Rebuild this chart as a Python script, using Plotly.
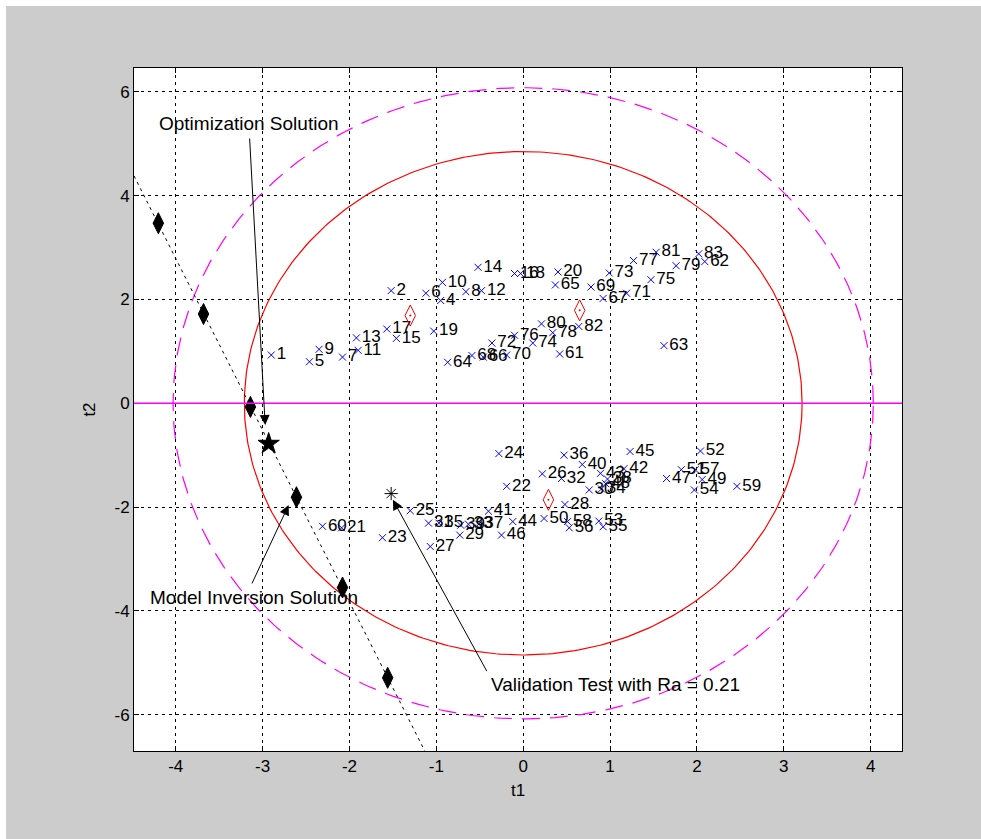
import numpy as np
import plotly.graph_objects as go

# ---------------- data ----------------
upper_labels = ["1", "2", "4", "5", "6", "7", "8", "9", "10", "11", "12", "13", "14", "15", "16", "17", "18", "19", "20",
                "61", "62", "63", "64", "65", "66", "67", "68", "69", "70", "71", "72", "73", "74", "75", "76", "77",
                "78", "79", "80", "81", "82", "83"]
upper_t1 = [-2.90, -1.52, -0.95, -2.46, -1.12, -2.08, -0.66, -2.35, -0.93, -1.90, -0.48, -1.92, -0.52, -1.46, -0.10,
            -1.57, -0.03, -1.03, 0.40,
            0.42, 2.09, 1.62, -0.87, 0.37, -0.46, 0.92, -0.59, 0.78, -0.19, 1.19, -0.36, 0.99, 0.11, 1.47, -0.10, 1.27,
            0.34, 1.76, 0.21, 1.53, 0.64, 2.02]
upper_t2 = [0.93, 2.17, 1.98, 0.80, 2.12, 0.89, 2.15, 1.04, 2.33, 1.02, 2.17, 1.26, 2.62, 1.25, 2.50,
            1.43, 2.50, 1.39, 2.53,
            0.95, 2.73, 1.11, 0.79, 2.28, 0.89, 2.02, 0.92, 2.24, 0.93, 2.12, 1.16, 2.51, 1.16, 2.38, 1.31, 2.75,
            1.36, 2.65, 1.53, 2.91, 1.48, 2.88]

lower_labels = [str(i) for i in range(21, 61)]
lower_t1 = [-2.09, -0.19, -1.62, -0.28, -1.30, 0.22, -1.07, 0.48, -0.73, 0.76,
            -1.09, 0.44, -0.63, 0.90, -0.97, 0.47, -0.51, 0.97, -0.72, 0.68,
            -0.40, 1.16, 0.89, -0.12, 1.23, -0.25, 1.65, 0.95, 2.06, 0.24,
            1.82, 2.04, 0.87, 1.97, 0.92, 0.53, 1.98, 0.51, 2.46, -2.31]
lower_t2 = [-2.40, -1.60, -2.59, -0.97, -2.07, -1.36, -2.76, -1.95, -2.54, -1.67,
            -2.31, -1.45, -2.33, -1.65, -2.31, -1.00, -2.33, -1.46, -2.35, -1.18,
            -2.08, -1.26, -1.35, -2.28, -0.93, -2.54, -1.45, -1.55, -1.47, -2.22,
            -1.28, -0.92, -2.27, -1.67, -2.38, -2.40, -1.28, -2.28, -1.60, -2.37]

red_t1 = [-1.30, 0.65, 0.29]
red_t2 = [1.69, 1.79, -1.86]

path_t1 = [-4.20, -3.68, -3.14, -2.61, -2.08, -1.56]
path_t2 = [3.47, 1.72, -0.07, -1.81, -3.55, -5.29]

opt_t1, opt_t2 = [-2.93], [-0.78]
val_t1, val_t2 = [-1.52], [-1.74]

ellipse_inner = (3.21, 4.85)   # semi-axes (t1, t2)
ellipse_outer = (4.03, 6.08)

x_range = [-4.48, 4.36]
y_range = [-6.70, 6.46]
x_ticks = [-4, -3, -2, -1, 0, 1, 2, 3, 4]
y_ticks = [-6, -4, -2, 0, 2, 4, 6]

FONT = "Liberation Sans, Arial, sans-serif"
BLUE = "#0000ff"

fig = go.Figure()

# ellipses
th = np.linspace(0, 2 * np.pi, 400)
fig.add_trace(go.Scatter(x=ellipse_outer[0] * np.cos(th), y=ellipse_outer[1] * np.sin(th), mode="lines",
                         line=dict(color="#ff00ff", width=1.2, dash="18px,10px"), hoverinfo="skip"))
fig.add_trace(go.Scatter(x=ellipse_inner[0] * np.cos(th), y=ellipse_inner[1] * np.sin(th), mode="lines",
                         line=dict(color="#ff0000", width=1.2), hoverinfo="skip"))

# dashed path line through the black diamonds, extended to axes limits
k, b = np.polyfit(path_t1, path_t2, 1)
x_end = (y_range[0] - b) / k
fig.add_trace(go.Scatter(x=[x_range[0], x_end], y=[k * x_range[0] + b, y_range[0]], mode="lines",
                         line=dict(color="black", width=1, dash="3px,4px"), hoverinfo="skip"))

# score points
for xs, ys, labs in [(upper_t1, upper_t2, upper_labels), (lower_t1, lower_t2, lower_labels)]:
    fig.add_trace(go.Scatter(x=xs, y=ys, mode="markers+text", text=labs,
                             textposition="middle right", textfont=dict(family=FONT, size=17, color="black"),
                             marker=dict(symbol="x-thin-open", size=7, color=BLUE,
                                         line=dict(color=BLUE, width=1))))

fig.add_trace(go.Scatter(x=red_t1, y=red_t2, mode="markers",
                         marker=dict(symbol="diamond-tall-open", size=15, color="#ff0000",
                                     line=dict(color="#ff0000", width=1))))
fig.add_trace(go.Scatter(x=red_t1, y=red_t2, mode="markers",
                         marker=dict(symbol="circle", size=2, color="#ff0000", line=dict(width=0))))

fig.add_trace(go.Scatter(x=path_t1, y=path_t2, mode="markers",
                         marker=dict(symbol="diamond-tall", size=15, color="black",
                                     line=dict(color="black", width=1))))
fig.add_trace(go.Scatter(x=opt_t1, y=opt_t2, mode="markers",
                         marker=dict(symbol="star", size=16, color="black", line=dict(color="black", width=1))))
fig.add_trace(go.Scatter(x=val_t1, y=val_t2, mode="markers",
                         marker=dict(symbol="asterisk-open", size=11, color="black",
                                     line=dict(color="black", width=1))))

# annotations with arrows
arrows = [
    # head (x,y), tail (ax,ay)
    (-2.97, -0.42, -3.15, 5.13),
    (-2.70, -1.96, -3.13, -3.50),
    (-1.50, -1.86, -0.41, -5.19),
]
for hx, hy, tx, ty in arrows:
    fig.add_annotation(x=hx, y=hy, ax=tx, ay=ty, xref="x", yref="y", axref="x", ayref="y",
                       text="", showarrow=True, arrowhead=2, arrowsize=2, arrowwidth=1,
                       arrowcolor="black", standoff=0)

texts = [
    ("Optimization Solution", -4.22, 5.40),
    ("Model Inversion Solution", -4.32, -3.75),
    ("Validation Test with Ra = 0.21", -0.39, -5.42),
]
for t, x, y in texts:
    fig.add_annotation(x=x, y=y, xref="x", yref="y", text=t, showarrow=False, xanchor="left",
                       yanchor="middle", font=dict(family=FONT, size=19, color="black"))

# white strip top / left of window
L, R, T, B = 134, 79, 68, 88
W, H = 981, 839
pw, ph = W - L - R, H - T - B
def px(xp):
    return (xp - L) / pw
def py(yp):
    return (H - B - yp) / ph
fig.add_shape(type="rect", xref="paper", yref="paper", x0=px(0), x1=px(W), y0=py(6), y1=py(0),
              fillcolor="white", line=dict(width=0), layer="above")
fig.add_shape(type="rect", xref="paper", yref="paper", x0=px(0), x1=px(6), y0=py(H), y1=py(0),
              fillcolor="white", line=dict(width=0), layer="above")

# horizontal magenta zero line
fig.add_shape(type="line", xref="paper", yref="y", x0=0, x1=1, y0=0, y1=0,
              line=dict(color="#ff00ff", width=1.5), layer="above")

axis_common = dict(showgrid=True, gridcolor="black", griddash="3px,4px", gridwidth=1,
                   zeroline=False, showline=True, linecolor="black", linewidth=1, mirror="ticks",
                   ticks="inside", ticklen=5, tickcolor="black",
                   tickfont=dict(family=FONT, size=17, color="black"))

fig.update_layout(
    width=W, height=H, showlegend=False,
    paper_bgcolor="#cccccc", plot_bgcolor="white",
    margin=dict(l=L, r=R, t=T, b=B, pad=0),
    xaxis=dict(range=x_range, tickvals=x_ticks, ticktext=[str(v) for v in x_ticks],
               title=dict(text="t1", font=dict(family=FONT, size=17, color="black"), standoff=8),
               **axis_common),
    yaxis=dict(range=y_range, tickvals=y_ticks, ticktext=[str(v) for v in y_ticks],
               title=dict(text="t2", font=dict(family=FONT, size=17, color="black"), standoff=14),
               **axis_common),
)

fig.write_html("out.html")
